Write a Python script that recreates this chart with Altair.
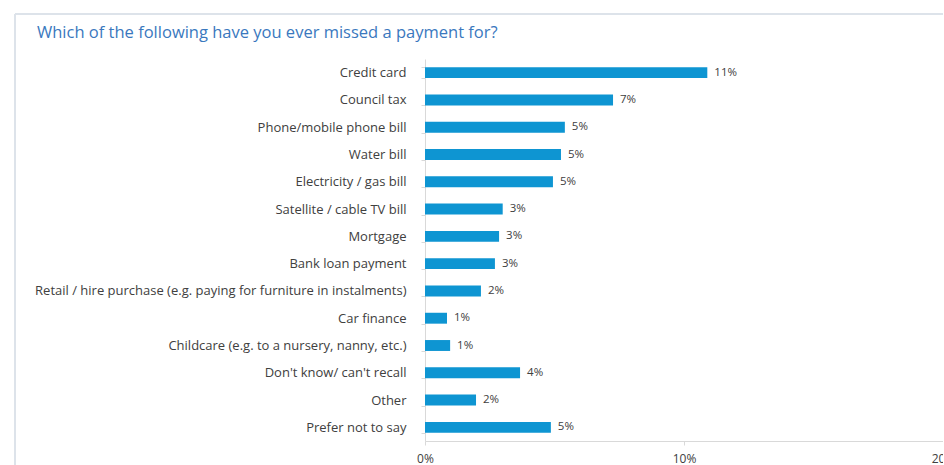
import altair as alt
import pandas as pd

categories = [
    "Credit card",
    "Council tax",
    "Phone/mobile phone bill",
    "Water bill",
    "Electricity / gas bill",
    "Satellite / cable TV bill",
    "Mortgage",
    "Bank loan payment",
    "Retail / hire purchase (e.g. paying for furniture in instalments)",
    "Car finance",
    "Childcare (e.g. to a nursery, nanny, etc.)",
    "Don't know/ can't recall",
    "Other",
    "Prefer not to say",
]
values = [0.109, 0.0726, 0.054, 0.0525, 0.0494, 0.030, 0.0286, 0.027,
          0.0216, 0.0085, 0.0097, 0.0367, 0.0197, 0.0486]
x_ticks = [0, 0.1, 0.2]
title_text = "Which of the following have you ever missed a payment for?"

df = pd.DataFrame({"category": categories, "value": values})

FONT = "Open Sans"
TEXT = "#404040"
BAR = "#0E95D2"

base = alt.Chart(df)

y_enc = alt.Y(
    "category:N",
    sort=categories,
    title=None,
    scale=alt.Scale(paddingInner=0.6, paddingOuter=0.3),
    axis=alt.Axis(
        labelFont=FONT, labelFontSize=13, labelColor=TEXT,
        labelPadding=15, tickSize=4, tickBand="extent",
        tickColor="#d9d9d9", domainColor="#d9d9d9", labelLimit=500,
    ),
)

x_enc = alt.X(
    "value:Q",
    title=None,
    scale=alt.Scale(domain=[0, 0.2]),
    axis=alt.Axis(
        values=x_ticks, format=".0%", labelFont=FONT, labelFontSize=12,
        labelColor=TEXT, tickSize=4, labelPadding=8, grid=False,
        tickColor="#d9d9d9", domainColor="#d9d9d9", labelFlush=False,
        labelOverlap=False,
    ),
)

bars = base.mark_bar(color=BAR).encode(x=x_enc, y=y_enc)

labels = base.mark_text(
    align="left", baseline="middle", dx=7, font=FONT, fontSize=11.5, color=TEXT
).encode(
    x=x_enc,
    y=y_enc,
    text=alt.Text("value:Q", format=".0%"),
)

title_df = pd.DataFrame({"t": [title_text]})
title = alt.Chart(title_df).mark_text(
    align="left", baseline="middle", font=FONT, fontSize=16.5, color="#3a78be", clip=False
).encode(
    x=alt.value(-388), y=alt.value(-26), text="t:N"
)

frame_left = base.mark_rule(color="#dde3ea", strokeWidth=1.5, clip=False).encode(
    x=alt.value(-410), y=alt.value(-45), y2=alt.value(420)
)
frame_top = base.mark_rule(color="#dde3ea", strokeWidth=1.5, clip=False).encode(
    x=alt.value(-410), x2=alt.value(600), y=alt.value(-45)
)

chart = (
    alt.layer(frame_left, frame_top, title, bars, labels)
    .properties(
        width=518,
        height=382,
        autosize=alt.AutoSizeParams(type="none"),
        padding={"left": 425, "top": 59, "right": 0, "bottom": 24},
        background="white",
    )
    .configure_view(strokeWidth=0, stroke="transparent")
)

chart.save("out.html", embed_options={"renderer": "svg", "actions": False})
